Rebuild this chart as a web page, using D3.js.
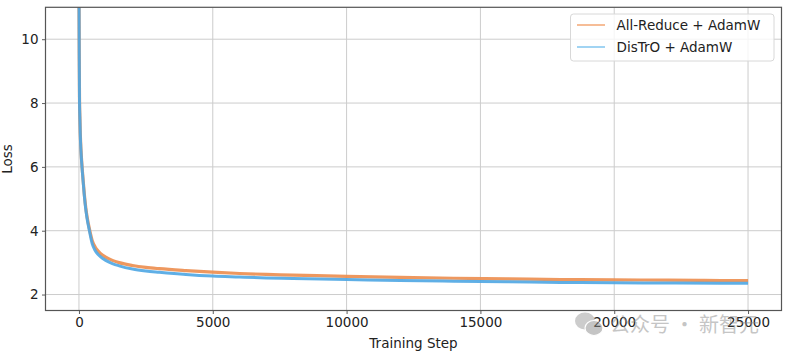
<!DOCTYPE html>
<html>
<head>
<meta charset="utf-8">
<script src="https://cdn.jsdelivr.net/npm/d3@7"></script>
<style>
  html, body { margin: 0; padding: 0; background: #fff; }
  svg { display: block; }
  text { font-family: "DejaVu Sans", sans-serif; }
</style>
</head>
<body>
<svg id="chart" width="793" height="357"></svg>
<script>
// ---- data ----
const steps = [0, 10, 20, 35, 50, 75, 100, 150, 200, 250, 300, 400, 500, 600, 700, 800, 1000, 1250, 1500, 2000, 2500, 3000, 4000, 5000, 6000, 7000, 8000, 10000, 12000, 14000, 16000, 18000, 20000, 22000, 24000, 25000];
const allReduceLoss = [11.8, 9.6, 8.2, 7.55, 7.05, 6.55, 6.2, 5.65, 5.15, 4.75, 4.45, 4.02, 3.68, 3.5, 3.38, 3.29, 3.17, 3.07, 3.00, 2.91, 2.85, 2.81, 2.75, 2.70, 2.66, 2.63, 2.61, 2.57, 2.54, 2.51, 2.49, 2.47, 2.46, 2.45, 2.44, 2.44];
const distroLoss    = [11.8, 9.5, 8.1, 7.5, 7.0, 6.5, 6.15, 5.6, 5.1, 4.7, 4.4, 3.96, 3.58, 3.39, 3.27, 3.19, 3.07, 2.97, 2.90, 2.80, 2.74, 2.70, 2.63, 2.58, 2.55, 2.52, 2.50, 2.47, 2.44, 2.42, 2.40, 2.38, 2.37, 2.36, 2.355, 2.35];
const seriesNames = ["All-Reduce + AdamW", "DisTrO + AdamW"];
const xTicks = [0, 5000, 10000, 15000, 20000, 25000];
const yTicks = [2, 4, 6, 8, 10];
const xLabel = "Training Step";
const yLabel = "Loss";
const watermark = "公众号 · 新智元";

// ---- layout ----
const svg = d3.select("#chart");
const L = 45.5, R = 781.5, T = 7.3, B = 310.5;
const x = d3.scaleLinear().domain([-1250, 26250]).range([L, R]);
const y = d3.scaleLinear().domain([1.5, 11]).range([B, T]);
const colors = ["#ec8d4e", "#4ea6e3"];
const legendColors = ["#f3a774", "#82c6ef"];

svg.append("defs").append("clipPath").attr("id", "clip")
  .append("rect").attr("x", L).attr("y", T).attr("width", R - L).attr("height", B - T);

// grid
const grid = svg.append("g");
grid.selectAll(".gx").data(xTicks).enter().append("line")
  .attr("x1", d => x(d)).attr("x2", d => x(d)).attr("y1", T).attr("y2", B)
  .attr("stroke", "#cccccc").attr("stroke-width", 1);
grid.selectAll(".gy").data(yTicks).enter().append("line")
  .attr("y1", d => y(d)).attr("y2", d => y(d)).attr("x1", L).attr("x2", R)
  .attr("stroke", "#cccccc").attr("stroke-width", 1);

// lines
const line = d3.line().x(d => x(d[0])).y(d => y(d[1])).curve(d3.curveMonotoneX);
const plot = svg.append("g").attr("clip-path", "url(#clip)");
[allReduceLoss, distroLoss].forEach((vals, i) => {
  plot.append("path")
    .datum(steps.map((s, k) => [s, vals[k]]))
    .attr("fill", "none")
    .attr("stroke", colors[i])
    .attr("stroke-width", i === 0 ? 3.2 : 3.0)
    .attr("stroke-opacity", 0.9)
    .attr("d", line);
});

// axes
const xAxis = d3.axisBottom(x).tickValues(xTicks).tickFormat(d3.format("d")).tickSize(3.5).tickPadding(3.5);
const yAxis = d3.axisLeft(y).tickValues(yTicks).tickFormat(d3.format("d")).tickSize(3.5).tickPadding(3.5);
const gx = svg.append("g").attr("transform", `translate(0,${B})`).call(xAxis);
const gy = svg.append("g").attr("transform", `translate(${L},0)`).call(yAxis);
[gx, gy].forEach(g => {
  g.select(".domain").remove();
  g.selectAll("line").attr("stroke", "#333").attr("stroke-width", 0.8);
  g.selectAll("text").attr("fill", "#222").style("font-size", "13.5px").style("font-family", "DejaVu Sans");
});

// frame
svg.append("rect").attr("x", L).attr("y", T).attr("width", R - L).attr("height", B - T)
  .attr("fill", "none").attr("stroke", "#555").attr("stroke-width", 1.2);

// axis labels
svg.append("text").attr("x", (L + R) / 2).attr("y", 347.5).attr("text-anchor", "middle")
  .attr("fill", "#222").style("font-size", "13.5px").text(xLabel);
svg.append("text").attr("transform", `translate(12,${(T + B) / 2}) rotate(-90)`).attr("text-anchor", "middle")
  .attr("fill", "#222").style("font-size", "13.5px").text(yLabel);

// legend
const lg = svg.append("g");
lg.append("rect").attr("x", 570.5).attr("y", 14).attr("width", 203.5).attr("height", 47).attr("rx", 3)
  .attr("fill", "#fff").attr("fill-opacity", 0.8).attr("stroke", "#d8d8d8").attr("stroke-width", 1);
seriesNames.forEach((name, i) => {
  const yy = 25 + i * 22;
  lg.append("line").attr("x1", 577).attr("x2", 605).attr("y1", yy).attr("y2", yy)
    .attr("stroke", legendColors[i]).attr("stroke-width", 1.5);
  lg.append("text").attr("x", 616.5).attr("y", yy + 4.8).attr("fill", "#222")
    .style("font-size", "13.5px").text(name);
});

// watermark
const wm = svg.append("g").attr("opacity", 0.5);
wm.append("ellipse").attr("cx", 585).attr("cy", 321).attr("rx", 10).attr("ry", 8.5).attr("fill", "#9a9a9a");
wm.append("ellipse").attr("cx", 594).attr("cy", 328).attr("rx", 9).attr("ry", 7.5).attr("fill", "#8a8a8a").attr("stroke", "#fff").attr("stroke-width", 1.2);
wm.append("text").attr("x", 610).attr("y", 332).attr("fill", "#8c8c8c")
  .style("font-family", "'Noto Sans CJK SC'").style("font-size", "20px").text(watermark);
</script>
</body>
</html>
